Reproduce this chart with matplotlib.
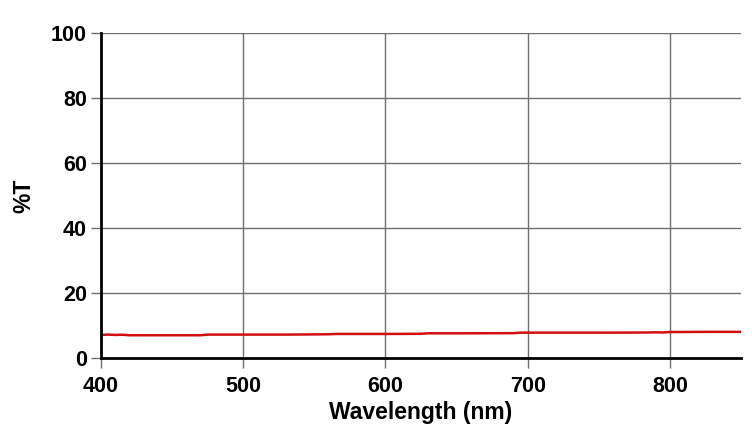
import matplotlib
matplotlib.use("Agg")
import matplotlib.pyplot as plt

wavelength = [400, 405, 410, 415, 420, 450, 470, 475, 500, 530, 560, 565, 600, 625, 630, 660, 690, 695, 720, 760, 785, 790, 795, 800, 805, 830, 850]
transmission = [7.1, 7.2, 7.1, 7.15, 7.0, 7.0, 7.0, 7.2, 7.2, 7.2, 7.3, 7.4, 7.4, 7.45, 7.6, 7.6, 7.65, 7.8, 7.8, 7.8, 7.85, 7.9, 7.85, 8.0, 8.0, 8.05, 8.05]
xticks = [400, 500, 600, 700, 800]
yticks = [0, 20, 40, 60, 80, 100]

plt.rcParams['font.family'] = ['Liberation Sans', 'DejaVu Sans']
plt.rcParams['font.weight'] = 'bold'

fig = plt.figure(figsize=(7.52, 4.34), dpi=100)
ax = fig.add_axes([101/752, 1-358/434, 640/752, 325/434])

ax.plot(wavelength, transmission, color='#d01010', lw=1.8, zorder=3)

ax.set_xlim(400, 850)
ax.set_ylim(0, 100)
ax.set_xticks(xticks)
ax.set_yticks(yticks)
ax.grid(True, color='#707070', lw=1.0)
for s in ['top', 'right']:
    ax.spines[s].set_visible(False)
for s in ['left', 'bottom']:
    ax.spines[s].set_linewidth(2.0)
    ax.spines[s].set_color('black')
    ax.spines[s].set_zorder(4)
ax.tick_params(axis='both', direction='out', length=7, width=1, color='#707070',
               labelsize=15.5)
ax.tick_params(axis='x', pad=6)
ax.tick_params(axis='y', pad=3)
for lab in ax.get_xticklabels() + ax.get_yticklabels():
    lab.set_fontweight('bold')

ax.set_xlabel('Wavelength (nm)', fontsize=16.5, fontweight='bold', labelpad=3)
ax.set_ylabel('%T', fontsize=16.5, fontweight='bold', labelpad=11)

fig.savefig('out.png', dpi=100, facecolor='white')
